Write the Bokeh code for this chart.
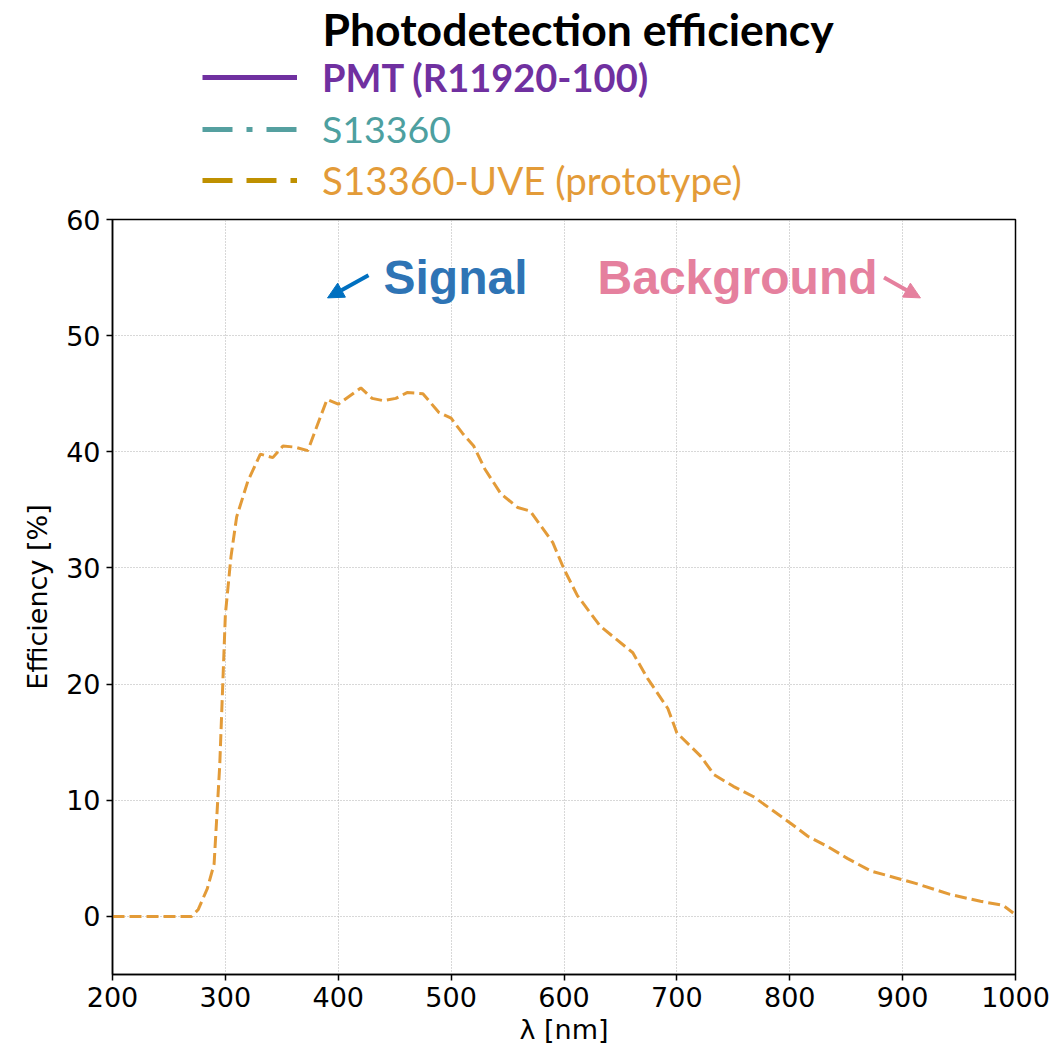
from bokeh.plotting import figure
from bokeh.layouts import column
from bokeh.models import Range1d, Legend, LegendItem, Label, Arrow, NormalHead, FixedTicker
from bokeh.embed import file_html
from bokeh.resources import INLINE

# ---- data ----
wavelength_nm = [200, 270, 276, 284, 290, 295, 300, 305, 310, 320, 331, 342, 351, 362, 373,
                 390, 400, 420, 430, 440, 451, 461, 475, 489, 500, 510, 520, 530, 544, 559,
                 570, 590, 600, 612, 632, 661, 674, 692, 700, 721, 733, 750, 768, 801, 816,
                 834, 851, 872, 891, 913, 942, 969, 989, 998]
uve_pde = [0, 0, 0.6, 2.4, 4.5, 13, 26, 31, 34.4, 37.5, 39.8, 39.5, 40.5, 40.4, 40.1,
           44.5, 44.1, 45.5, 44.6, 44.4, 44.6, 45.1, 45.0, 43.4, 42.9, 41.6, 40.5, 38.5, 36.4, 35.2,
           34.9, 32.2, 29.9, 27.6, 25.0, 22.7, 20.5, 17.9, 15.8, 13.8, 12.2, 11.2, 10.3, 8.0, 6.9,
           6.0, 5.0, 3.9, 3.4, 2.8, 1.9, 1.3, 0.95, 0.3]
# the PMT and S13360 curves are not visible in the reference (legend only)
nan = float("nan")
pmt_wavelength = [nan]
pmt_pde = [nan]
s13360_wavelength = [nan]
s13360_pde = [nan]

x_ticks = [200, 300, 400, 500, 600, 700, 800, 900, 1000]
y_ticks = [0, 10, 20, 30, 40, 50, 60]

legend_title = "Photodetection efficiency"
series_labels = ["PMT (R11920-100)", "S13360", "S13360-UVE (prototype)"]

purple = "#7030A0"
teal = "#55A0A0"
orange = "#E39B38"
gold = "#BF9000"

W = 1053
TOP_H = 205

# ---- legend panel (above the plot); its frame is aligned with the main frame ----
top = figure(width=W, height=TOP_H, output_backend="svg", toolbar_location=None,
             x_range=Range1d(112, 1015), y_range=Range1d(TOP_H, 0),
             min_border_left=112, min_border_right=38, min_border_top=0, min_border_bottom=0)
top.axis.visible = False
top.grid.visible = False
top.outline_line_color = None
top.background_fill_color = "white"
top.border_fill_color = "white"

r_pmt = top.line(pmt_wavelength, pmt_pde, line_color=purple, line_width=5)
r_s = top.line(s13360_wavelength, s13360_pde, line_color=teal, line_width=5, line_dash="30 14 6 14")
r_uve_key = top.line(s13360_wavelength, s13360_pde, line_color=gold, line_width=5, line_dash="30 14")

legend_specs = [
    (series_labels[0], r_pmt, purple, "bold", "38px", TOP_H - 100),
    (series_labels[1], r_s, "#4DA0A0", "normal", "37.5px", TOP_H - 151),
    (series_labels[2], r_uve_key, "#E39B38", "normal", "38.5px", TOP_H - 203),
]
for lab, rend, col, style, fsize, ypos in legend_specs:
    leg = Legend(items=[LegendItem(label=lab, renderers=[rend])], location=(202 - 112, ypos),
                 glyph_width=95, glyph_height=40, label_height=40, label_standoff=25,
                 padding=0, margin=0, border_line_alpha=0, background_fill_alpha=0,
                 label_text_font="Lato", label_text_font_size=fsize,
                 label_text_font_style=style, label_text_color=col, spacing=0)
    top.add_layout(leg)

top.add_layout(Label(x=322, y=28, text=legend_title, text_font="Lato",
                     text_font_size="44.5px", text_font_style="bold", text_color="black",
                     text_baseline="middle", text_align="left"))

# ---- main plot ----
p = figure(width=W, height=843, output_backend="svg", toolbar_location=None,
           x_range=Range1d(200, 1000), y_range=Range1d(-5, 60),
           min_border_left=112, min_border_right=38, min_border_top=14, min_border_bottom=74)
p.background_fill_color = "white"
p.border_fill_color = "white"
p.outline_line_color = "black"
p.outline_line_width = 1.5

p.xaxis.ticker = FixedTicker(ticks=x_ticks)
p.yaxis.ticker = FixedTicker(ticks=y_ticks)
for ax in (p.xaxis, p.yaxis):
    ax.axis_line_color = "black"
    ax.axis_line_width = 1.5
    ax.major_tick_line_color = "black"
    ax.major_tick_line_width = 1.5
    ax.major_tick_out = 6
    ax.major_tick_in = 0
    ax.minor_tick_line_color = None
    ax.major_label_text_font = "DejaVu Sans"
    ax.major_label_text_font_size = "27px"
    ax.major_label_text_color = "black"
    ax.axis_label_text_font = "DejaVu Sans"
    ax.axis_label_text_font_size = "27px"
    ax.axis_label_text_font_style = "normal"
    ax.axis_label_text_color = "black"
    ax.major_label_standoff = 6
p.xaxis.axis_label = "λ [nm]"
p.yaxis.axis_label = "Efficiency [%]"
p.xaxis.axis_label_standoff = 4
p.yaxis.axis_label_standoff = 10

p.grid.grid_line_color = "#b0b0b0"
p.grid.grid_line_dash = "1 2"
p.grid.grid_line_width = 1

p.line(wavelength_nm, uve_pde, line_color=orange, line_width=3, line_dash="12 5")

# ---- annotations ----
p.add_layout(Label(x=440.1, y=55.0, text="Signal", text_font="Liberation Sans",
                   text_font_size="48px", text_font_style="bold", text_color="#2E74B5",
                   text_baseline="middle", text_align="left"))
p.add_layout(Label(x=629.7, y=55.0, text="Background", text_font="Liberation Sans",
                   text_font_size="48px", text_font_style="bold", text_color="#E5809E",
                   text_baseline="middle", text_align="left"))
p.add_layout(Arrow(end=NormalHead(size=16, fill_color="#0070C0", line_color="#0070C0"),
                   x_start=426.8, y_start=55.2, x_end=390.5, y_end=53.25,
                   line_color="#0070C0", line_width=4))
p.add_layout(Arrow(end=NormalHead(size=16, fill_color="#E5809E", line_color="#E5809E"),
                   x_start=883.5, y_start=55.0, x_end=915.8, y_end=53.25,
                   line_color="#E5809E", line_width=4))

layout = column(top, p, spacing=0)
open("out.html", "w").write(file_html(layout, INLINE))
